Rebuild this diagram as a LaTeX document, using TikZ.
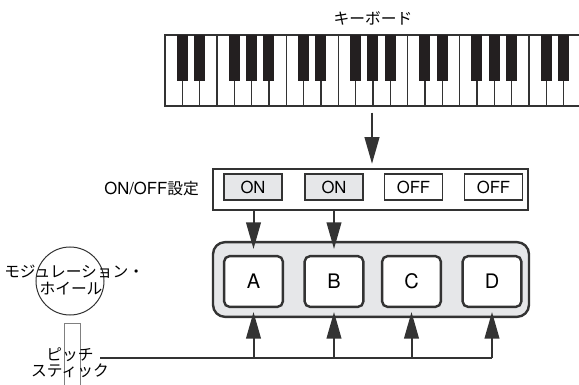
\documentclass[tikz,border=0pt]{standalone}
\usepackage{fontspec}
\setmainfont{TeX Gyre Heros}
\newfontfamily\jp{Noto Sans CJK JP}
\usetikzlibrary{arrows.meta}
\definecolor{linegray}{HTML}{333333}
\definecolor{boxgray}{HTML}{E6E7E9}
\definecolor{keyblack}{HTML}{231F20}
\tikzset{
  switchbox/.style={draw=linegray, line width=0.8pt, minimum width=43.5pt, minimum height=19.5pt, inner sep=0pt, font=\fontsize{12.5}{12.5}\selectfont},
  chanbox/.style={draw=linegray, fill=white, line width=1.8pt, rounded corners=4pt, minimum width=44pt, minimum height=38pt, inner sep=0pt, font=\fontsize{15}{15}\selectfont},
  jptext/.style={font=\jp\fontsize{11.8}{13}\selectfont, inner sep=0pt},
  bigarrow/.style={draw=linegray, line width=1.5pt, -{Triangle[length=20pt,width=11pt]}},
}

\begin{document}
\begin{tikzpicture}[x=0.75pt, y=-0.75pt]
			%%%%% FRAME %%%%%
			\useasboundingbox (0,0) rectangle (579,385);
			
			%%%%% KEYBOARD %%%%%
			\node[jptext] (kbdlabel) at (373,18) {キーボード};
			\foreach \k in {0,...,23}
				\draw[linegray, line width=1.1pt] ({165+\k*17.33},35) rectangle ++(17.33,71);
			\foreach \k in {1,2,4,5,6,8,9,11,12,13,15,16,18,19,20,22,23}
				\fill[keyblack] ({165+\k*17.33-5.5},35) rectangle ++(11,46);
			\coordinate (kbd) at (372,106);
			
			%%%%% ON/OFF %%%%%
			\node[draw=linegray, line width=1.5pt, minimum width=236pt, minimum height=31pt] (onoff) at (370.5,189.5) {};
			\node[switchbox, fill=boxgray] (on1) at (253,187) {ON};
			\node[switchbox, fill=boxgray] (on2) at (334,187) {ON};
			\node[switchbox] (off1) at (413.5,187) {OFF};
			\node[switchbox] (off2) at (493.5,187) {OFF};
			\node[anchor=east, inner sep=0pt, font=\fontsize{12.5}{13}\selectfont] (onofflabel) at (199,189) {ON/OFF{\jp\fontsize{11.8}{13}\selectfont 設定}};
			
			%%%%% CHANNELS %%%%%
			\node[draw=linegray, fill=boxgray, line width=1.8pt, rounded corners=9pt, minimum width=237pt, minimum height=56pt] (group) at (371,279.5) {};
			\node[chanbox] (chanA) at (253.5,281.5) {A};
			\node[chanbox] (chanB) at (334,281.5) {B};
			\node[chanbox] (chanC) at (411.5,281.5) {C};
			\node[chanbox] (chanD) at (492,281.5) {D};
			
			%%%%% WHEEL AND STICK %%%%%
			\draw[linegray, line width=0.75pt] (70,281) circle [radius=25.5pt];
			\draw[gray, line width=0.75pt] (64,390) rectangle (80,323);
			\node[jptext, anchor=west] (wheel1) at (4,272) {モジュレーション・};
			\node[jptext] (wheel2) at (71,289) {ホイール};
			\node[jptext] (stick1) at (70,355) {ピッチ};
			\node[jptext] (stick2) at (70,371) {スティック};
			
			%%%%% ARROWS %%%%%
			\draw[bigarrow, shorten <=5pt, shorten >=3pt] (kbd) -- (kbd |- onoff.north);
			\draw[bigarrow, shorten >=4.5pt] (onoff.south -| chanA) -- (chanA.north);
			\draw[bigarrow, shorten >=4.5pt] (onoff.south -| chanB) -- (chanB.north);
			
			\coordinate (bus) at (100,358);
			\draw[linegray, line width=1.5pt] (bus) -- (bus -| chanD);
			\draw[bigarrow, shorten >=3pt] (bus -| chanA) -- (chanA.south);
			\draw[bigarrow, shorten >=3pt] (bus -| chanB) -- (chanB.south);
			\draw[bigarrow, shorten >=3pt] (bus -| chanC) -- (chanC.south);
			\draw[bigarrow, shorten >=3pt] (bus -| chanD) -- (chanD.south);
			
			%%%%% END %%%%%
\end{tikzpicture}
\end{document}
